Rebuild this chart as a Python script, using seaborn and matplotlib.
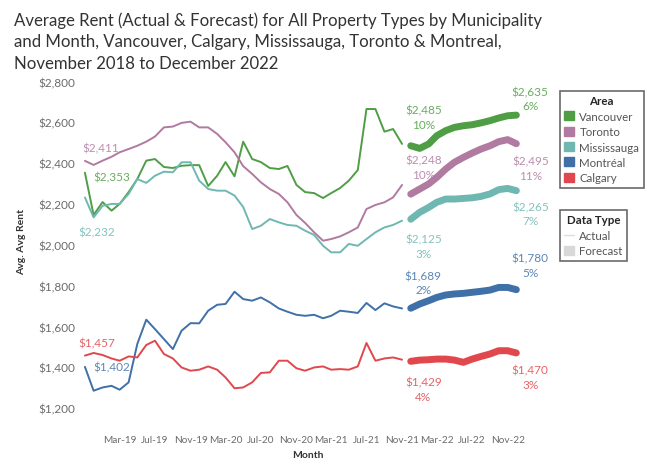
import matplotlib
matplotlib.use("Agg")
import matplotlib.pyplot as plt
import matplotlib.dates as mdates
from matplotlib.lines import Line2D
from matplotlib.patches import Patch
import pandas as pd
import seaborn as sns

areas = ["Vancouver", "Toronto", "Mississauga", "Montréal", "Calgary"]
colors = ["#4f9e45", "#b07aa1", "#6fb8b1", "#3f70a8", "#e0484d"]

actual_months = pd.date_range("2018-11-01", "2021-11-01", freq="MS")
forecast_months = pd.date_range("2021-12-01", "2022-12-01", freq="MS")

van_actual = [2353, 2146, 2209, 2167, 2200, 2258, 2322, 2412, 2420, 2381, 2376, 2387, 2390,
              2390, 2288, 2338, 2405, 2335, 2505, 2420, 2405, 2376, 2371, 2386, 2293, 2258,
              2253, 2229, 2253, 2278, 2314, 2366, 2665, 2665, 2554, 2567, 2494]
tor_actual = [2411, 2391, 2412, 2431, 2453, 2469, 2485, 2505, 2530, 2575, 2579, 2597, 2603,
              2575, 2575, 2543, 2502, 2453, 2385, 2347, 2306, 2273, 2249, 2208, 2146, 2107,
              2061, 2020, 2028, 2041, 2061, 2085, 2175, 2195, 2208, 2232, 2293]
mis_actual = [2232, 2134, 2191, 2200, 2200, 2249, 2322, 2303, 2338, 2358, 2355, 2404, 2404,
              2314, 2273, 2265, 2265, 2241, 2185, 2077, 2093, 2126, 2110, 2097, 2093, 2069,
              2048, 1995, 1963, 1963, 2004, 1995, 2028, 2061, 2085, 2097, 2118]
mtl_actual = [1402, 1285, 1301, 1309, 1290, 1326, 1514, 1633, 1587, 1538, 1489, 1579, 1616,
              1615, 1677, 1706, 1710, 1770, 1734, 1726, 1742, 1718, 1688, 1672, 1657, 1652,
              1657, 1640, 1652, 1677, 1672, 1666, 1715, 1680, 1713, 1698, 1688]
cal_actual = [1457, 1470, 1460, 1443, 1432, 1453, 1448, 1509, 1530, 1465, 1443, 1399, 1383,
              1388, 1404, 1388, 1350, 1297, 1301, 1326, 1372, 1375, 1432, 1432, 1395, 1383,
              1399, 1404, 1388, 1391, 1388, 1404, 1519, 1432, 1443, 1448, 1437]

van_forecast = [2485, 2472, 2494, 2534, 2559, 2575, 2583, 2588, 2597, 2608, 2621, 2632, 2635]
tor_forecast = [2248, 2273, 2298, 2330, 2371, 2404, 2428, 2449, 2469, 2485, 2505, 2515, 2495]
mis_forecast = [2125, 2159, 2183, 2208, 2224, 2224, 2227, 2230, 2237, 2249, 2270, 2276, 2265]
mtl_forecast = [1689, 1710, 1726, 1742, 1754, 1759, 1762, 1767, 1772, 1778, 1791, 1791, 1780]
cal_forecast = [1429, 1435, 1437, 1440, 1440, 1435, 1424, 1440, 1453, 1465, 1481, 1481, 1470]

start_pct = ["10%", "10%", "3%", "2%", "4%"]
end_pct = ["6%", "11%", "7%", "5%", "3%"]

actual_values = [van_actual, tor_actual, mis_actual, mtl_actual, cal_actual]
forecast_values = [van_forecast, tor_forecast, mis_forecast, mtl_forecast, cal_forecast]

rows = []
for area, act, fc in zip(areas, actual_values, forecast_values):
    for m, v in zip(actual_months, act):
        rows.append({"Month": m, "Rent": v, "Area": area, "Type": "Actual"})
    for m, v in zip(forecast_months, fc):
        rows.append({"Month": m, "Rent": v, "Area": area, "Type": "Forecast"})
df = pd.DataFrame(rows)
palette = dict(zip(areas, colors))

sns.set_theme(style="white")
plt.rcParams["font.family"] = ["Lato", "DejaVu Sans"]

fig, ax = plt.subplots(figsize=(6.5, 4.64), dpi=100)
fig.subplots_adjust(left=80 / 650, right=545 / 650, top=1 - 80 / 464, bottom=1 - 425 / 464)

sns.lineplot(data=df[df["Type"] == "Actual"], x="Month", y="Rent", hue="Area",
             palette=palette, linewidth=1.4, legend=False, ax=ax)
sns.lineplot(data=df[df["Type"] == "Forecast"], x="Month", y="Rent", hue="Area",
             palette=palette, linewidth=5, legend=False, ax=ax,
             solid_capstyle="round", solid_joinstyle="round")

ax.set_ylim(1122, 2812)
ax.set_xlim(pd.Timestamp("2018-10-15"), pd.Timestamp("2023-03-10"))
ax.set_yticks(range(1200, 2801, 200))
ax.yaxis.set_major_formatter(plt.FuncFormatter(lambda v, p: f"${v:,.0f}"))
ax.set_xticks(pd.date_range("2019-03-01", "2022-11-01", freq="4MS"))
ax.xaxis.set_major_formatter(mdates.DateFormatter("%b-%y"))
ax.tick_params(axis="both", length=0, labelsize=8.5, colors="#6b6b6b")
ax.tick_params(axis="x", pad=8, labelsize=7.2)
for s in ax.spines.values():
    s.set_visible(False)
ax.set_xlabel("Month", fontsize=7.5, color="#333333", fontweight="bold")
ax.set_ylabel("Avg. Avg Rent", fontsize=7.5, color="#333333", fontweight="bold")
ax.xaxis.set_label_coords(0.49, -0.075)
ax.yaxis.set_label_coords(-0.115, 0.53)

# labels at the start of the actual series
start_offsets = [(6, -3, "left", "center"), (-2, 9, "left", "center"), (-5, -25, "left", "center"),
                 (6, 0, "left", "center"), (-5, 9, "left", "center")]
for area, act, col, (dx, dy, ha, va) in zip(areas, actual_values, colors, start_offsets):
    ax.annotate(f"${act[0]:,}", (actual_months[0], act[0]), xytext=(dx, dy),
                textcoords="offset points", ha=ha, va=va, fontsize=8.5, color=col, alpha=0.85)

# labels at the start and end of the forecast
fstart_dy = [20.5, 19.5, -19.5, 18.4, -20]
fend_dy = [12, -17.6, -16.5, 17.6, -17.3]
for i, (fc, col) in enumerate(zip(forecast_values, colors)):
    ax.annotate(f"${fc[0]:,}\n{start_pct[i]}", (forecast_months[0], fc[0]), xytext=(9, fstart_dy[i]),
                textcoords="offset points", ha="center", va="center", fontsize=8.5,
                color=col, alpha=0.85, linespacing=1.35)
    ax.annotate(f"${fc[-1]:,}\n{end_pct[i]}", (forecast_months[-1], fc[-1]), xytext=(10, fend_dy[i]),
                textcoords="offset points", ha="center", va="center", fontsize=8.5,
                color=col, alpha=0.85, linespacing=1.35)

fig.text(14 / 650, 1 - 12 / 464,
         "Average Rent (Actual & Forecast) for All Property Types by Municipality\n"
         "and Month, Vancouver, Calgary, Mississauga, Toronto & Montreal,\n"
         "November 2018 to December 2022",
         ha="left", va="top", fontsize=12.1, color="#333333", linespacing=1.45)

area_handles = [Patch(facecolor=c, edgecolor=c, label=a) for a, c in zip(areas, colors)]
leg1 = fig.legend(handles=area_handles, title="Area", loc="upper left",
                  bbox_to_anchor=(554 / 650, 1 - 86 / 464), fontsize=8.3, title_fontsize=8.3,
                  frameon=True, fancybox=False, edgecolor="#444444", handlelength=0.8,
                  handleheight=0.8, handletextpad=0.5, labelspacing=0.38, borderpad=0.4,
                  labelcolor="#555555")
leg1.get_title().set_fontweight("bold")
leg1.get_frame().set_linewidth(1.2)

type_handles = [Line2D([0], [0], color="#dddddd", linewidth=1, label="Actual"),
                Patch(facecolor="#d8d8d8", edgecolor="#d8d8d8", label="Forecast")]
leg2 = fig.legend(handles=type_handles, title="Data Type", loc="upper left",
                  bbox_to_anchor=(554 / 650, 1 - 205 / 464), fontsize=8.3, title_fontsize=8.3,
                  frameon=True, fancybox=False, edgecolor="#444444", handlelength=0.8,
                  handleheight=0.8, handletextpad=0.5, labelspacing=0.38, borderpad=0.4,
                  labelcolor="#555555")
leg2.get_title().set_fontweight("bold")
leg2.get_frame().set_linewidth(1.2)

fig.savefig("out.png", dpi=100)
